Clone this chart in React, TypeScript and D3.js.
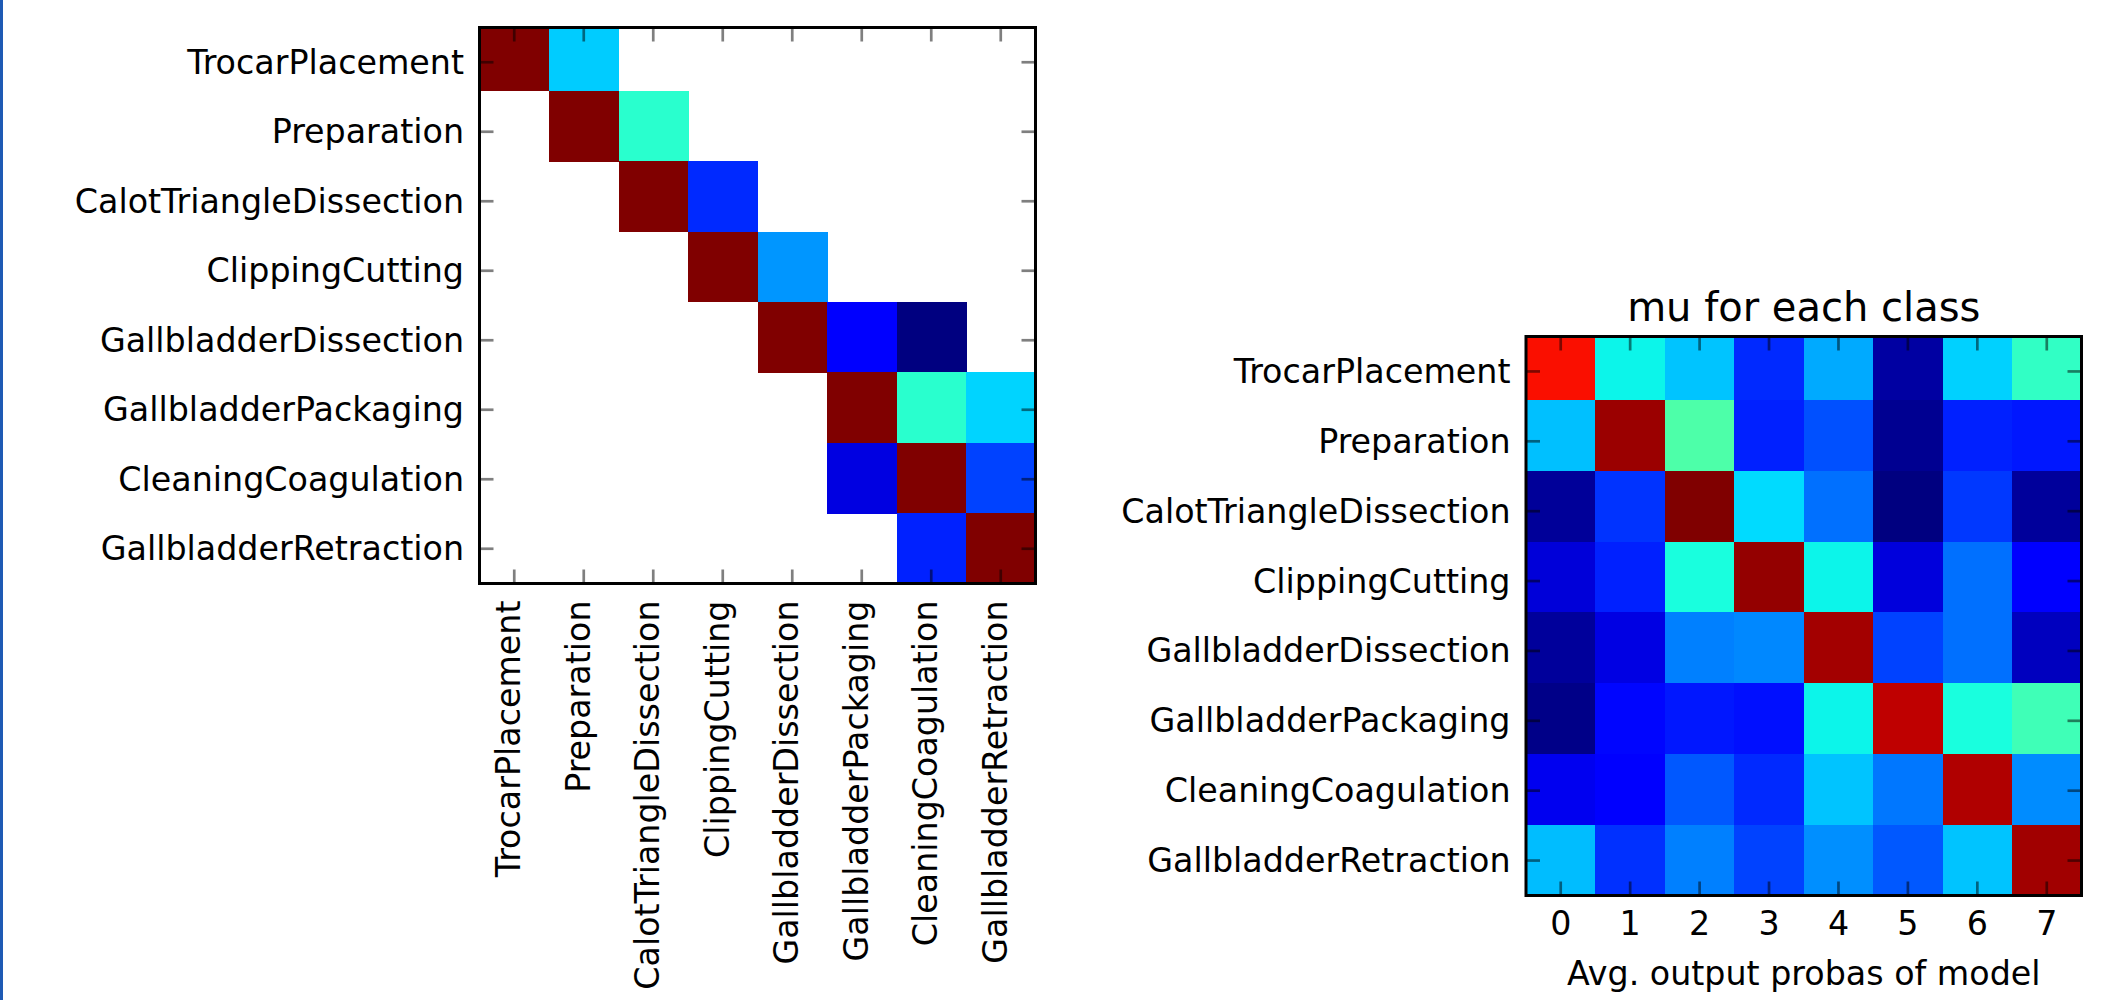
import React from "react";
import * as d3 from "d3";

// surgical phases (rows of both matrices, columns of the left one)
const phases = [
  "TrocarPlacement",
  "Preparation",
  "CalotTriangleDissection",
  "ClippingCutting",
  "GallbladderDissection",
  "GallbladderPackaging",
  "CleaningCoagulation",
  "GallbladderRetraction",
];

const outputTicks = ["0", "1", "2", "3", "4", "5", "6", "7"];

// left: transition matrix, null = empty (white) cell, values on the jet scale 0..1
const transitions: (number | null)[][] = [
  [1.0, 0.325, null, null, null, null, null, null],
  [null, 1.0, 0.4, null, null, null, null, null],
  [null, null, 1.0, 0.165, null, null, null, null],
  [null, null, null, 1.0, 0.272, null, null, null],
  [null, null, null, null, 1.0, 0.12, 0.0, null],
  [null, null, null, null, null, 1.0, 0.4, 0.333],
  [null, null, null, null, null, 0.084, 1.0, 0.19],
  [null, null, null, null, null, null, 0.157, 1.0],
];

// right: mu for each class (avg output probas)
const mu: number[][] = [
  [0.894, 0.365, 0.317, 0.165, 0.292, 0.03, 0.33, 0.41],
  [0.313, 0.976, 0.444, 0.156, 0.203, 0.015, 0.156, 0.148],
  [0.022, 0.175, 1.0, 0.34, 0.235, 0.0, 0.18, 0.024],
  [0.077, 0.156, 0.38, 0.982, 0.365, 0.08, 0.235, 0.115],
  [0.024, 0.086, 0.25, 0.258, 0.969, 0.19, 0.235, 0.055],
  [0.007, 0.13, 0.148, 0.14, 0.365, 0.945, 0.38, 0.427],
  [0.097, 0.115, 0.211, 0.165, 0.317, 0.242, 0.958, 0.262],
  [0.31, 0.172, 0.25, 0.19, 0.265, 0.211, 0.317, 0.971],
];

// matplotlib "jet"
const jetR = d3.scaleLinear([0, 0.35, 0.66, 0.89, 1], [0, 0, 1, 1, 0.5]).clamp(true);
const jetG = d3.scaleLinear([0, 0.125, 0.375, 0.64, 0.91, 1], [0, 0, 1, 1, 0, 0]).clamp(true);
const jetB = d3.scaleLinear([0, 0.11, 0.34, 0.65, 1], [0.5, 1, 1, 0, 0]).clamp(true);
const jet = (t: number) =>
  d3.rgb(255 * jetR(t), 255 * jetG(t), 255 * jetB(t)).formatHex();

const FONT = "DejaVu Sans";
const TICK = 14;

function Heatmap({ id, x0, y0, w, h, matrix, colLabels, rotateCols, title, xLabel }) {
  const cols = d3.range(matrix[0].length);
  const rows = d3.range(matrix.length);
  const x = d3.scaleBand<number>().domain(cols).range([x0, x0 + w]);
  const yTick = d3.scaleBand<number>().domain(rows).range([y0, y0 + h]);
  // image rows: top row is slightly cut by the axes limit
  const yCell = d3.scaleLinear().domain([-0.4, rows.length - 0.5]).range([y0, y0 + h]);

  return (
    <g>
      <defs>
        <clipPath id={id}>
          <rect x={x0} y={y0} width={w} height={h} />
        </clipPath>
      </defs>
      <g clipPath={`url(#${id})`} shapeRendering="crispEdges">
        {matrix.map((row, i) =>
          row.map((v, j) =>
            v == null ? null : (
              <rect
                key={`${i}-${j}`}
                x={x(j)}
                y={yCell(i - 0.5)}
                width={x.bandwidth() + 0.5}
                height={yCell(i + 0.5) - yCell(i - 0.5) + 0.5}
                fill={jet(v)}
              />
            )
          )
        )}
      </g>
      <g stroke="#000" strokeOpacity={0.5} strokeWidth={2.7}>
        {cols.map((j) => {
          const cx = x(j) + x.bandwidth() / 2;
          return (
            <g key={j}>
              <line x1={cx} x2={cx} y1={y0} y2={y0 + TICK} />
              <line x1={cx} x2={cx} y1={y0 + h} y2={y0 + h - TICK} />
            </g>
          );
        })}
        {rows.map((i) => {
          const cy = yTick(i) + yTick.bandwidth() / 2;
          return (
            <g key={i}>
              <line x1={x0} x2={x0 + TICK} y1={cy} y2={cy} />
              <line x1={x0 + w} x2={x0 + w - TICK} y1={cy} y2={cy} />
            </g>
          );
        })}
      </g>
      <rect x={x0} y={y0} width={w} height={h} fill="none" stroke="#000" strokeWidth={3} />
      <g fontFamily={FONT} fontSize={33.3} fill="#000">
        {rows.map((i) => (
          <text
            key={i}
            x={x0 - 15.5}
            y={yTick(i) + yTick.bandwidth() / 2}
            dy="0.346em"
            textAnchor="end"
          >
            {phases[i]}
          </text>
        ))}
        {cols.map((j) => {
          const cx = x(j) + x.bandwidth() / 2;
          return rotateCols ? (
            <text
              key={j}
              transform={`translate(${cx + 6},${y0 + h + 17}) rotate(-90)`}
              textAnchor="end"
            >
              {colLabels[j]}
            </text>
          ) : (
            <text key={j} x={cx} y={y0 + h + 39.5} textAnchor="middle">
              {colLabels[j]}
            </text>
          );
        })}
        {xLabel && (
          <text x={x0 + w / 2} y={y0 + h + 89.5} textAnchor="middle">
            {xLabel}
          </text>
        )}
        {title && (
          <text x={x0 + w / 2} y={y0 - 15.5} textAnchor="middle" fontSize={40}>
            {title}
          </text>
        )}
      </g>
    </g>
  );
}

export default function App() {
  return (
    <div style={{ position: "absolute", left: 0, top: 0 }}>
      <svg width={2111} height={1000} style={{ display: "block", background: "#fff" }}>
        <rect x={0} y={0} width={2111} height={1000} fill="#fff" />
        <rect x={0} y={0} width={3} height={1000} fill="#1e5ab4" />
        <Heatmap
          id="clip-left"
          x0={479.5}
          y0={27.5}
          w={556}
          h={556}
          matrix={transitions}
          colLabels={phases}
          rotateCols={true}
          title={null}
          xLabel={null}
        />
        <Heatmap
          id="clip-right"
          x0={1526}
          y0={336.5}
          w={555.5}
          h={559}
          matrix={mu}
          colLabels={outputTicks}
          rotateCols={false}
          title="mu for each class"
          xLabel="Avg. output probas of model"
        />
      </svg>
    </div>
  );
}
